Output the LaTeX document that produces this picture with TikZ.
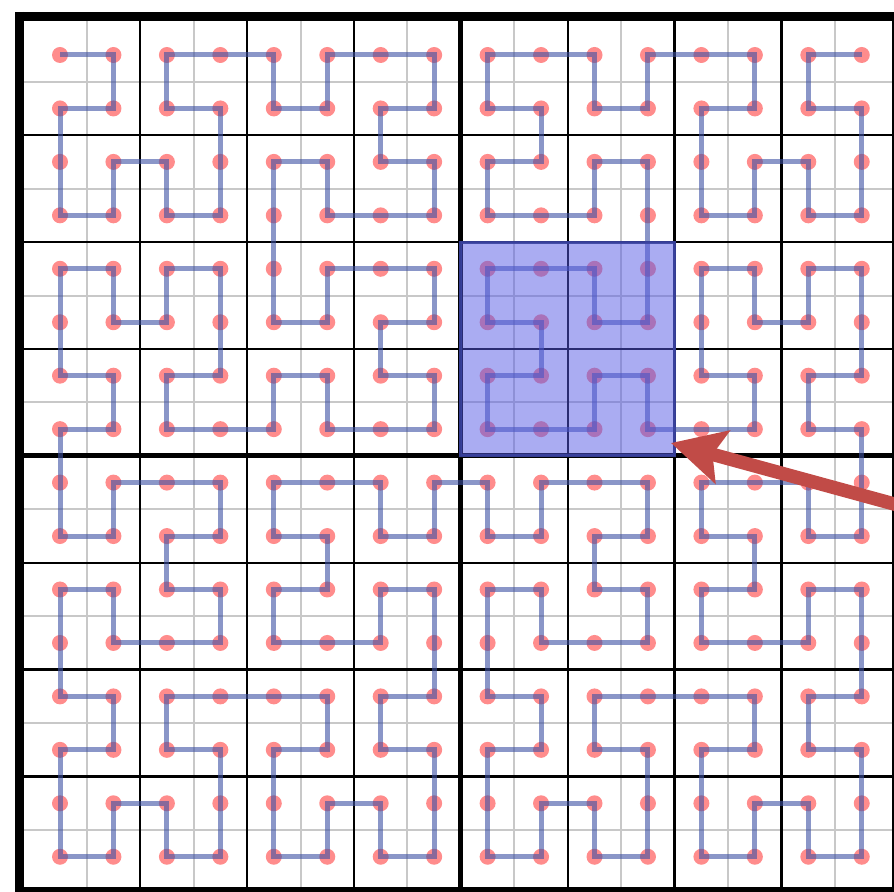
\documentclass[tikz,border=0pt]{standalone}
\usepackage{tikz}
\usetikzlibrary{arrows.meta,lindenmayersystems}
\definecolor{gridgrey}  {HTML}{C8C8C8}
\definecolor{curveblue} {HTML}{3C50A3}
\definecolor{blockfill} {HTML}{5559E5}
\definecolor{blockedge} {HTML}{3A43A0}
\definecolor{arrowred}  {HTML}{C14B47}
\pgfdeclarelindenmayersystem{Hilbert curve}{
  \rule{L -> +RF-LFL-FR+}
  \rule{R -> -LF+RFR+FL-}}
\tikzset{
  frame/.style   ={draw=black, line width=4.5pt},
  cellline/.style={draw=black, line width=1.25pt},
  midline/.style ={draw=black, line width=2.5pt},
  subline/.style ={draw=gridgrey, line width=1pt},
  hdot/.style    ={fill=red, fill opacity=0.45},
  curve/.style   ={draw=curveblue, draw opacity=0.6, line width=2.5pt},
  block/.style   ={fill=blockfill, fill opacity=0.5, draw=blockedge,
                   draw opacity=0.9, line width=1.5pt},
  pointer/.style ={draw=arrowred, line width=6.75pt,
                   -{Stealth[length=26.5pt, width=27pt, inset=5pt]}}
}
\begin{document}
\begin{tikzpicture}[x=0.5pt, y=-0.5pt]
\useasboundingbox (0,0) rectangle (894,892);
\clip (0,0) rectangle (894,892);

\foreach \k in {1,3,...,15}
  \draw[subline] ({33.3+53.45*\k},16.5) -- ({33.3+53.45*\k},892)
                 (19.5,{28.3+53.45*\k}) -- (894,{28.3+53.45*\k});
\foreach \k in {2,4,6,10,12,14}
  \draw[cellline] ({33.3+53.45*\k},16.5) -- ({33.3+53.45*\k},892)
                  (19.5,{28.3+53.45*\k}) -- (894,{28.3+53.45*\k});
\draw[midline] (460.9,16.5) -- (460.9,892) (19.5,455.9) -- (894,455.9);

\draw[frame] (15,16.5) -- (894,16.5) (19.5,12) -- (19.5,892)
             (15,891) -- (894,891) (896.5,12) -- (896.5,892);

\foreach \i in {0,...,15}
  \foreach \j in {0,...,15}
    \fill[hdot] ({60+53.45*\i},{55+53.45*\j}) circle (8);

\draw[curve, shift={(60,55)}, lindenmayer system={Hilbert curve, axiom=R,
      order=4, step=26.725pt, angle=90}] (0,0) lindenmayer system;

\coordinate (blockNW) at (460.9,242.1);
\coordinate (blockSE) at (674.7,455.9);
\draw[block] (blockNW) rectangle (blockSE);

\coordinate (pointerTail) at (960,522);
\coordinate (pointerTip) at (671,443);
\draw[pointer] (pointerTail) -- (pointerTip);
\end{tikzpicture}
\end{document}
